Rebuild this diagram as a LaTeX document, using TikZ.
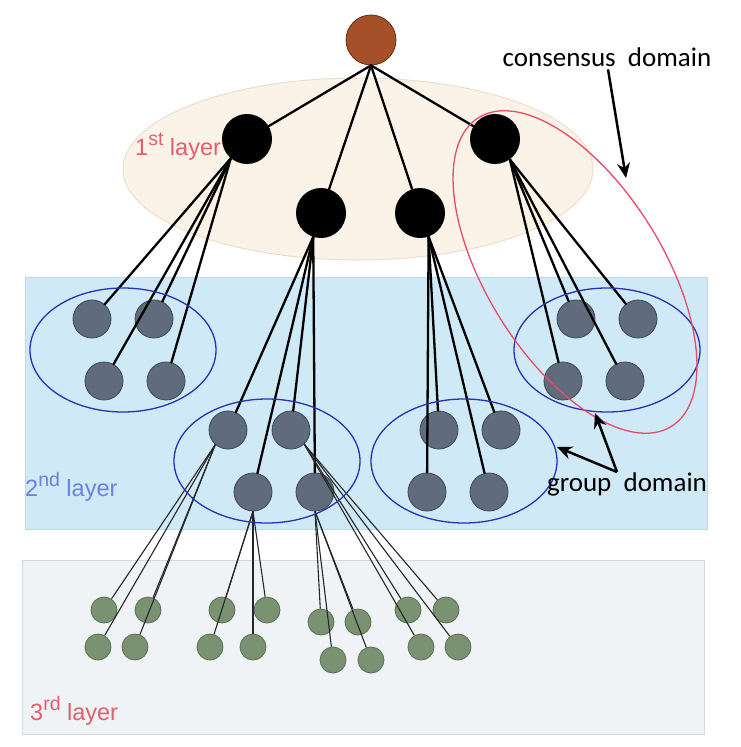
\documentclass[tikz,border=0pt]{standalone}
\usepackage{fontspec}
\setmainfont{Liberation Sans}
\newfontfamily\calib{Carlito}
\usetikzlibrary{arrows.meta}
\definecolor{rootc}{RGB}{165,80,40}
\definecolor{secfill}{RGB}{96,108,124}
\definecolor{secborder}{RGB}{60,72,86}
\definecolor{thfill}{RGB}{122,146,114}
\definecolor{thborder}{RGB}{88,112,84}
\definecolor{bluerect}{RGB}{208,233,246}
\definecolor{bluerectb}{RGB}{186,218,236}
\definecolor{grayrect}{RGB}{240,243,246}
\definecolor{grayrectb}{RGB}{212,217,222}
\definecolor{beige}{RGB}{252,243,232}
\definecolor{beigeb}{RGB}{236,222,204}
\definecolor{grpblue}{RGB}{40,50,180}
\definecolor{conred}{RGB}{232,74,106}
\definecolor{labred}{RGB}{226,96,108}
\definecolor{labblue}{RGB}{108,128,224}
\newcommand{\lsup}[1]{\raisebox{10pt}{\fontsize{19.5}{19.5}\selectfont #1}}
\begin{document}
\begin{tikzpicture}[x=1pt,y=-1pt,
  rootnode/.style={circle,draw=rootc!60!black,line width=0.8pt,fill=rootc,minimum size=50pt,inner sep=0pt},
  firstnode/.style={circle,fill=black,minimum size=50pt,inner sep=0pt},
  secnode/.style={circle,draw=secborder,fill=secfill,line width=0.8pt,minimum size=38pt,inner sep=0pt},
  thirdnode/.style={circle,draw=thborder,fill=thfill,line width=0.8pt,minimum size=26pt,inner sep=0pt},
  edgeA/.style={line width=2.3pt,line cap=round},
  edgeC/.style={line width=1.1pt,draw=black!85},
  grp/.style={draw=grpblue,line width=1.3pt},
  laytext/.style={font=\fontsize{23.5}{26}\selectfont,inner sep=0pt,anchor=base west},
  domtext/.style={font=\calib\fontsize{27}{30}\selectfont,inner sep=0pt,anchor=base},
  arr/.style={line width=2.5pt,-{Stealth[length=15pt,width=13pt]}}
]
\useasboundingbox (0,0) rectangle (741,747);
% layer backgrounds
\draw[fill=bluerect,draw=bluerectb,line width=1pt] (25,277) rectangle (707,529);
\draw[fill=grayrect,draw=grayrectb,line width=1pt] (22,560) rectangle (704,734);
\draw[fill=beige,draw=beigeb,line width=1pt] (358,169) ellipse [x radius=235, y radius=91];
% layer labels
\node[laytext,text=labred] (lab1) at (135,155) {1\lsup{st} layer};
\node[laytext,text=labblue] (lab2) at (25,496) {2\lsup{nd} layer};
\node[laytext,text=labred] (lab3) at (30,720) {3\lsup{rd} layer};
% nodes
\node[rootnode] (root) at (371,40) {};
\node[firstnode] (A1) at (247,139) {};
\node[firstnode] (A2) at (321,213) {};
\node[firstnode] (A3) at (420,213) {};
\node[firstnode] (A4) at (495,139) {};
\foreach \n/\x/\y in {L1/92/319,L2/154/319,L3/104/381,L4/166/381,
  M1/228/430,M2/291/430,M3/253/492,M4/315/492,
  R1/439/430,R2/501/430,R3/427/492,R4/489/492,
  S1/576/319,S2/638/319,S3/563/381,S4/625/381}
  \node[secnode] (\n) at (\x,\y) {};
\foreach \n/\x/\y in {G1/104/610,G2/148/610,G3/98/647,G4/135/647,
  G5/222/610,G6/267/610,G7/210/647,G8/253/647,
  G9/321/622,G10/358/622,G11/333/660,G12/371/660,
  G13/408/610,G14/446/610,G15/421/647,G16/458/647}
  \node[thirdnode] (\n) at (\x,\y) {};
% edges root -> first layer
\foreach \t in {A1,A2,A3,A4} \draw[edgeA] (root.south) -- (\t);
% first -> second layer
\foreach \t in {L1,L2,L3,L4} \draw[edgeA] (A1.230) -- (\t);
\foreach \t in {M1,M2,M3,M4} \draw[edgeA] (A2.252) -- (\t);
\foreach \t in {R1,R2,R3,R4} \draw[edgeA] (A3.290) -- (\t);
\foreach \t in {S1,S2,S3,S4} \draw[edgeA] (A4.306) -- (\t);
% second -> third layer
\foreach \t in {G1,G2,G3,G4} \draw[edgeC] (M1.229) -- (\t);
\foreach \t in {G5,G6,G7,G8} \draw[edgeC] (M3.270) -- (\t);
\foreach \t in {G9,G10,G11,G12} \draw[edgeC] (M4.270) -- (\t);
\foreach \t in {G13,G14,G15,G16} \draw[edgeC] (M2.313) -- (\t);
% group domains
\draw[grp] (123,350) ellipse [x radius=93, y radius=62];
\draw[grp] (267,461) ellipse [x radius=93, y radius=62];
\draw[grp] (464,461) ellipse [x radius=93, y radius=62];
\draw[grp] (607,350) ellipse [x radius=93, y radius=62];
% consensus domain
\draw[draw=conred,line width=1.3pt,rotate around={-58:(575,272)}] (575,272) ellipse [x radius=182, y radius=88];
% annotations
\node[domtext] (cd) at (607,66) {consensus\ \ domain};
\node[domtext] (gd) at (627,491) {group\ \ domain};
\coordinate (ce) at (626,178);
\coordinate (gv) at (617,472);
\coordinate (g1) at (557,447);
\coordinate (g2) at (595,413);
\draw[arr] (cd.south) ++(1,3) -- (ce);
\draw[arr] (gv) -- (g1);
\draw[arr] (gv) -- (g2);
\end{tikzpicture}
\end{document}
